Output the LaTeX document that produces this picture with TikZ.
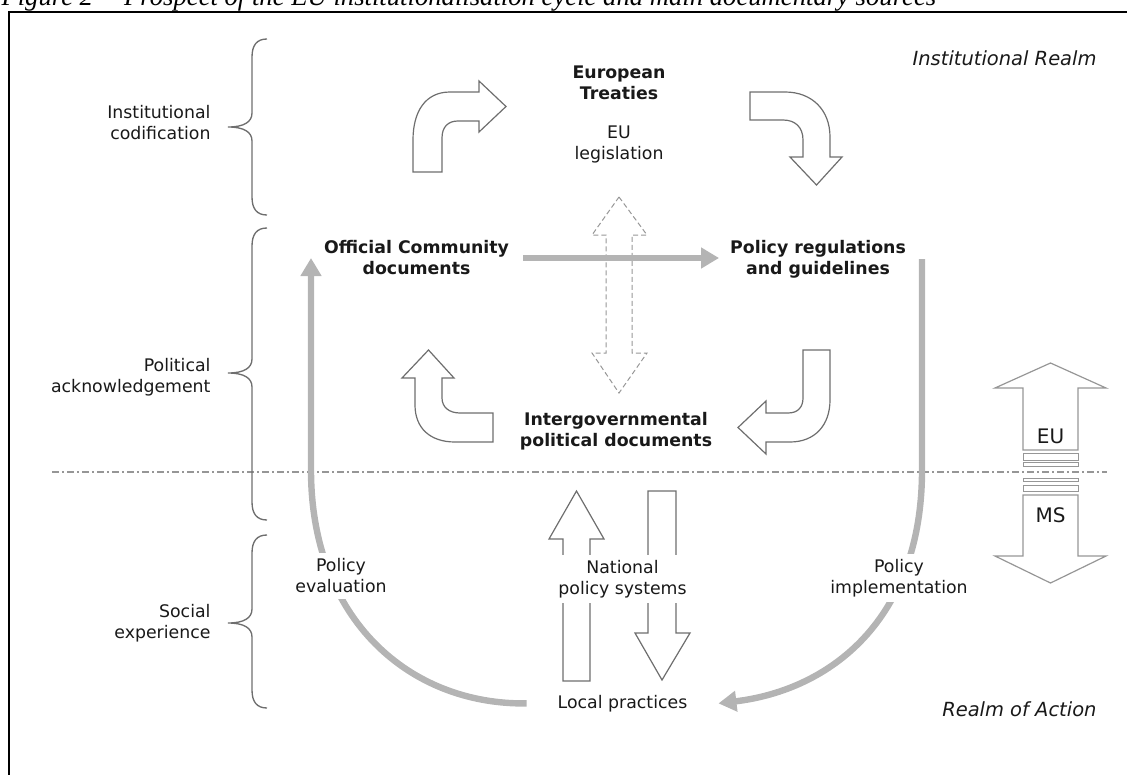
\documentclass[tikz,border=0pt]{standalone}
\usepackage{fontspec}
\setmainfont{DejaVu Sans}[BoldFont={DejaVu Sans Bold},ItalicFont={DejaVu Sans Oblique}]
\newfontfamily\captionfont{Liberation Serif}
\usetikzlibrary{arrows.meta}

\definecolor{flowgray}{RGB}{180,180,180}
\definecolor{shapegray}{RGB}{110,110,110}
\definecolor{linegray}{RGB}{150,150,150}

\tikzset{every picture/.style={line width=0.75pt}}
\tikzset{
  lbl/.style={inner sep=3pt, align=center, text=black!90, font=\fontsize{13}{15.75}\selectfont},
  boldlbl/.style={lbl, font=\fontsize{13}{15.75}\selectfont\bfseries},
  cutlbl/.style={lbl, fill=white, inner sep=4pt},
  realm/.style={inner sep=0pt, text=black!90, font=\fontsize{14.6}{17}\selectfont\itshape},
  flow/.style={draw=flowgray, line width=4.8pt, -{Triangle[length=13.5pt,width=15pt]}},
  blockarrow/.style={draw=shapegray, line width=0.9pt, fill=white},
  curlybrace/.style={draw=shapegray, line width=1pt},
}

\begin{document}
\begin{tikzpicture}[x=0.75pt,y=0.75pt,yscale=-1,xscale=1]
\useasboundingbox (0,0) rectangle (1127,774);
\clip (0,0) rectangle (1127,774);

% Text Node (caption, cut at the top)
\node (cap) at (1,5.5) [anchor=base west, inner sep=0pt, font=\captionfont\itshape\fontsize{20}{24}\selectfont] {Figure 2 -- Prospect of the EU institutionalisation cycle and main documentary sources};

%Frame
\draw [line width=1.6pt] (8.7,790) -- (8.7,11.7) -- (1140,11.7) ;

%Straight Lines (border of the two realms)
\draw [color=linegray, line width=0.9pt, dash pattern=on 5.25pt off 2.25pt on 1.5pt off 2.25pt] (52,472) -- (1107,472) ;

%Shape: Brace
\draw [curlybrace] (267,39) .. controls (257,39) and (252,45) .. (252,57) -- (252,113) .. controls (252,122) and (244,127) .. (228,127) .. controls (244,127) and (252,132) .. (252,141) -- (252,197) .. controls (252,209) and (257,215) .. (267,215) ;
%Shape: Brace
\draw [curlybrace] (267,228) .. controls (257,228) and (252,234) .. (252,246) -- (252,359) .. controls (252,368) and (244,373) .. (228,373) .. controls (244,373) and (252,378) .. (252,387) -- (252,502) .. controls (252,514) and (257,520) .. (267,520) ;
%Shape: Brace
\draw [curlybrace] (267,535) .. controls (257,535) and (252,541) .. (252,553) -- (252,609) .. controls (252,618) and (244,623) .. (228,623) .. controls (244,623) and (252,628) .. (252,637) -- (252,690) .. controls (252,702) and (257,708) .. (267,708) ;

%Shape: Bent Arrow (up, then right)
\draw [blockarrow] (413,172) -- (413,140) .. controls (413,112) and (425,92) .. (450,92) -- (479,92) -- (479,81) -- (506,106.5) -- (479,132) -- (479,121) -- (458,121) .. controls (448,121) and (442,127) .. (442,138) -- (442,172) -- cycle ;
%Shape: Bent Arrow (right, then down)
\draw [blockarrow] (750,92) -- (785,92) .. controls (812,92) and (830,110) .. (830,137) -- (830,157) -- (842,157) -- (816.5,185) -- (790,157) -- (803,157) -- (803,140) .. controls (803,127) and (795,120) .. (783,120) -- (750,120) -- cycle ;
%Shape: Bent Arrow (left, then up)
\draw [blockarrow] (493,413) -- (460,413) .. controls (449,413) and (442,407) .. (442,398) -- (442,378) -- (454,378) -- (428.5,350) -- (402,378) -- (415,378) -- (415,405) .. controls (415,428) and (430,442) .. (455,442) -- (493,442) -- cycle ;
%Shape: Bent Arrow (down, then left)
\draw [blockarrow] (803,350) -- (830,350) -- (830,400) .. controls (830,425) and (815,442) .. (790,442) -- (766,442) -- (766,454) -- (738,427.5) -- (766,401) -- (766,413) -- (788,413) .. controls (798,413) and (803,407) .. (803,398) -- cycle ;

%Shape: Double Arrow (dashed)
\draw [draw=linegray, dash pattern=on 3.75pt off 2.25pt] (619,197) -- (647,235) -- (632,235) -- (632,353) -- (647,353) -- (619,393) -- (592,353) -- (606,353) -- (606,235) -- (592,235) -- cycle ;

%Shape: Up Arrow
\draw [blockarrow] (576.5,491) -- (604,539) -- (590,539) -- (590,681) -- (563,681) -- (563,539) -- (549,539) -- cycle ;
%Shape: Down Arrow
\draw [blockarrow] (648,491) -- (676,491) -- (676,633) -- (690,633) -- (662,680) -- (635,633) -- (648,633) -- cycle ;

%Shape: EU / MS Double Arrow
\draw [draw=linegray, line width=0.9pt] (1023,450) -- (1023,388) -- (995,388) -- (1050.5,363) -- (1106,388) -- (1078,388) -- (1078,450) -- cycle ;
\draw [draw=linegray, line width=0.9pt] (1023,495) -- (1078,495) -- (1078,556) -- (1106,556) -- (1050.5,583) -- (995,556) -- (1023,556) -- cycle ;
\draw [draw=linegray, line width=0.75pt] (1023,453) rectangle (1078,460) ;
\draw [draw=linegray, line width=0.75pt] (1023,462.5) rectangle (1078,466) ;
\draw [draw=linegray, line width=0.75pt] (1023,478) rectangle (1078,481.5) ;
\draw [draw=linegray, line width=0.75pt] (1023,485) rectangle (1078,491.5) ;
\node (eu) at (1050.5,443) [anchor=base, inner sep=0pt, text=black!90, font=\fontsize{15}{18}\selectfont] {EU};
\node (ms) at (1050.5,522) [anchor=base, inner sep=0pt, text=black!90, font=\fontsize{15}{18}\selectfont] {MS};

% Text Node
\node (inst) at (215,123) [lbl, anchor=east, align=right] {Institutional\\codification};
% Text Node
\node (pol) at (215,377) [lbl, anchor=east, align=right] {Political\\acknowledgement};
% Text Node
\node (soc) at (215,623) [lbl, anchor=east, align=right] {Social\\experience};
% Text Node
\node (eut) at (619,83) [boldlbl] {European\\Treaties};
% Text Node
\node (eul) at (619,144) [lbl] {EU\\legislation};
% Text Node
\node (ocd) at (416.5,258) [boldlbl] {Official Community\\documents};
% Text Node
\node (prg) at (818,259) [boldlbl] {Policy regulations\\and guidelines};
% Text Node
\node (igd) at (616,431) [boldlbl] {Intergovernmental\\political documents};
% Text Node
\node (loc) at (622.5,703.4) [lbl] {Local practices};
% Text Node
\node (irealm) at (1097,65) [realm, anchor=base east] {Institutional Realm};
% Text Node
\node (arealm) at (1097,716) [realm, anchor=base east] {Realm of Action};

%Flows
\draw [flow, shorten <=7.5pt, shorten >=5pt] (ocd.east) -- (ocd.east -| prg.west) ;
\draw [flow] ([xshift=-20pt]loc.west) .. controls (410,705) and (311,620) .. (311,470) -- (311,0 |- ocd.west) ;
\draw [flow] (922,0 |- prg.east) -- (922,470) .. controls (922,620) and (830,690) .. ([xshift=20pt]loc.east) ;

% Text Node
\node (pev) at (341,576) [cutlbl] {Policy\\evaluation};
% Text Node
\node (pim) at (899,578) [cutlbl] {Policy\\implementation};
% Text Node
\node (nps) at (622.5,579) [cutlbl] {National\\policy systems};

\end{tikzpicture}
\end{document}
